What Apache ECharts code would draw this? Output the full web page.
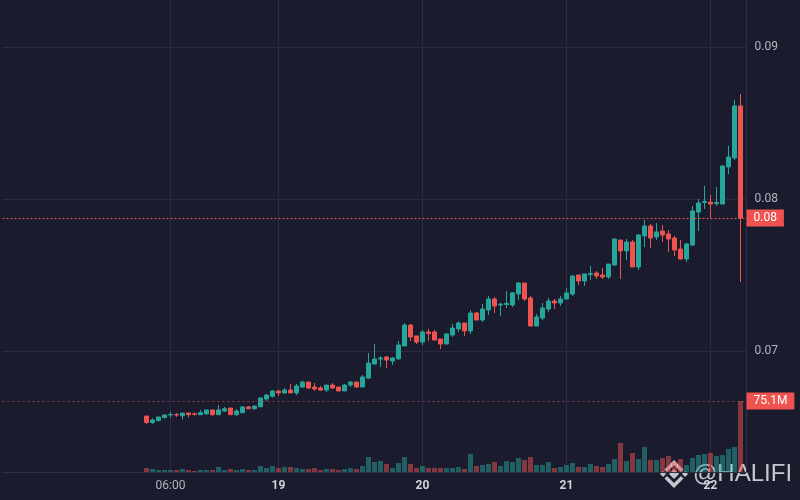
<!DOCTYPE html>
<html>
<head>
<meta charset="utf-8">
<script src="https://cdn.jsdelivr.net/npm/echarts@6/dist/echarts.min.js"></script>
<style>
  html, body { margin: 0; padding: 0; background: #1b1b2e; }
  #main { width: 800px; height: 500px; }
</style>
</head>
<body>
<div id="main"></div>
<script>
// hourly candles, 18th 02:00 -> 22nd 05:00
const opens = [
  0.06572, 0.06530, 0.06543, 0.06562, 0.06579, 0.06582, 0.06574, 0.06592, 0.06587, 0.06581,
  0.06587, 0.06612, 0.06581, 0.06605, 0.06625, 0.06581, 0.06594, 0.06632, 0.06620, 0.06633,
  0.06684, 0.06702, 0.06737, 0.06724, 0.06743, 0.06724, 0.06763, 0.06796, 0.06763, 0.06757,
  0.06743, 0.06776, 0.06763, 0.06737, 0.06776, 0.06796, 0.06763, 0.06822, 0.06914, 0.06947,
  0.06961, 0.06934, 0.06949, 0.07033, 0.07171, 0.07099, 0.07059, 0.07125, 0.07125, 0.07079,
  0.07046, 0.07105, 0.07145, 0.07184, 0.07132, 0.07250, 0.07204, 0.07270, 0.07342, 0.07303,
  0.07306, 0.07303, 0.07375, 0.07447, 0.07349, 0.07164, 0.07217, 0.07276, 0.07329, 0.07316,
  0.07342, 0.07375, 0.07500, 0.07461, 0.07503, 0.07513, 0.07500, 0.07487, 0.07566, 0.07730,
  0.07658, 0.07717, 0.07553, 0.07757, 0.07822, 0.07750, 0.07789, 0.07770, 0.07743, 0.07671,
  0.07605, 0.07697, 0.07914, 0.07977, 0.07980, 0.07970, 0.07967, 0.08211, 0.08270, 0.08612
];
const closes = [
  0.06530, 0.06546, 0.06566, 0.06579, 0.06582, 0.06579, 0.06592, 0.06581, 0.06584, 0.06594,
  0.06612, 0.06581, 0.06612, 0.06620, 0.06581, 0.06605, 0.06632, 0.06620, 0.06638, 0.06691,
  0.06710, 0.06737, 0.06724, 0.06743, 0.06724, 0.06770, 0.06796, 0.06757, 0.06750, 0.06743,
  0.06776, 0.06757, 0.06737, 0.06776, 0.06796, 0.06763, 0.06829, 0.06921, 0.06947, 0.06954,
  0.06941, 0.06954, 0.07039, 0.07171, 0.07092, 0.07059, 0.07125, 0.07115, 0.07072, 0.07046,
  0.07112, 0.07151, 0.07184, 0.07132, 0.07250, 0.07204, 0.07276, 0.07342, 0.07296, 0.07309,
  0.07313, 0.07382, 0.07447, 0.07342, 0.07164, 0.07224, 0.07283, 0.07329, 0.07316, 0.07342,
  0.07382, 0.07493, 0.07461, 0.07507, 0.07510, 0.07493, 0.07487, 0.07572, 0.07737, 0.07658,
  0.07717, 0.07553, 0.07763, 0.07822, 0.07743, 0.07783, 0.07763, 0.07737, 0.07664, 0.07605,
  0.07704, 0.07921, 0.07974, 0.07984, 0.07967, 0.07977, 0.08217, 0.08276, 0.08612, 0.07875
];
const lows = [
  0.06520, 0.06520, 0.06535, 0.06556, 0.06562, 0.06566, 0.06548, 0.06561, 0.06574, 0.06581,
  0.06581, 0.06574, 0.06581, 0.06599, 0.06581, 0.06574, 0.06594, 0.06620, 0.06614, 0.06633,
  0.06671, 0.06695, 0.06704, 0.06717, 0.06724, 0.06710, 0.06757, 0.06750, 0.06737, 0.06737,
  0.06730, 0.06750, 0.06737, 0.06737, 0.06763, 0.06757, 0.06763, 0.06816, 0.06914, 0.06895,
  0.06888, 0.06908, 0.06941, 0.07033, 0.07066, 0.07046, 0.07039, 0.07066, 0.07072, 0.07013,
  0.07046, 0.07092, 0.07125, 0.07099, 0.07112, 0.07204, 0.07191, 0.07237, 0.07250, 0.07230,
  0.07283, 0.07289, 0.07336, 0.07329, 0.07164, 0.07164, 0.07204, 0.07257, 0.07276, 0.07296,
  0.07342, 0.07362, 0.07434, 0.07428, 0.07467, 0.07474, 0.07474, 0.07474, 0.07559, 0.07474,
  0.07599, 0.07553, 0.07533, 0.07684, 0.07678, 0.07730, 0.07717, 0.07651, 0.07625, 0.07599,
  0.07586, 0.07691, 0.07789, 0.07934, 0.07875, 0.07954, 0.07967, 0.08164, 0.08257, 0.07454
];
const highs = [
  0.06572, 0.06556, 0.06566, 0.06579, 0.06599, 0.06592, 0.06592, 0.06592, 0.06594, 0.06612,
  0.06612, 0.06612, 0.06645, 0.06632, 0.06625, 0.06618, 0.06638, 0.06638, 0.06638, 0.06691,
  0.06717, 0.06743, 0.06740, 0.06757, 0.06783, 0.06783, 0.06805, 0.06796, 0.06789, 0.06770,
  0.06776, 0.06789, 0.06763, 0.06783, 0.06803, 0.06796, 0.06842, 0.06987, 0.07046, 0.06967,
  0.06967, 0.06961, 0.07066, 0.07184, 0.07178, 0.07099, 0.07138, 0.07145, 0.07138, 0.07079,
  0.07118, 0.07178, 0.07197, 0.07184, 0.07270, 0.07257, 0.07309, 0.07362, 0.07355, 0.07316,
  0.07395, 0.07388, 0.07454, 0.07447, 0.07362, 0.07243, 0.07316, 0.07349, 0.07342, 0.07362,
  0.07414, 0.07500, 0.07500, 0.07507, 0.07559, 0.07526, 0.07546, 0.07572, 0.07737, 0.07730,
  0.07737, 0.07730, 0.07770, 0.07862, 0.07836, 0.07842, 0.07829, 0.07796, 0.07757, 0.07730,
  0.07711, 0.07954, 0.08000, 0.08086, 0.08026, 0.08079, 0.08224, 0.08349, 0.08651, 0.08691
];
// volume in millions
const volumes = [
  4.2, 3.2, 2.1, 2.1, 2.1, 2.1, 3.2, 2.1, 1.1, 2.1,
  2.1, 2.1, 5.3, 2.1, 3.2, 2.1, 3.2, 2.1, 2.1, 6.3,
  4.2, 6.3, 4.2, 5.3, 5.3, 4.2, 3.2, 3.2, 4.2, 2.1,
  3.2, 3.2, 2.1, 3.2, 4.2, 3.2, 6.3, 15.9, 10.6, 11.6,
  8.5, 4.2, 9.5, 15.9, 8.5, 4.2, 6.3, 4.2, 4.2, 4.2,
  4.2, 4.2, 5.3, 3.2, 19.0, 6.3, 7.4, 8.5, 10.6, 6.3,
  11.6, 10.6, 14.8, 12.7, 15.9, 7.4, 7.4, 10.6, 4.2, 5.3,
  7.4, 9.5, 5.3, 5.3, 8.5, 6.3, 5.3, 8.5, 13.8, 30.7,
  11.6, 20.1, 13.8, 26.5, 12.7, 12.7, 14.8, 16.9, 10.6, 13.8,
  7.4, 14.8, 18.0, 19.0, 20.1, 16.9, 18.0, 24.3, 26.5, 75.1
];
const priceTicks = [0.07, 0.08, 0.09];
const tickLabels = ['18 06:00', '19 00:00', '20 00:00', '21 00:00', '22 00:00'];

// time axis: empty hours on the left like the original, one spare hour on the right
const padBefore = 24;
const categories = [];
for (let i = 0; i < padBefore + opens.length + 1; i++) {
  const t = 2 + i; // starts at 17th 02:00
  const d = 17 + Math.floor(t / 24);
  const h = t % 24;
  categories.push(d + ' ' + String(h).padStart(2, '0') + ':00');
}

const UP = '#26a69a';
const DOWN = '#ef5350';
const GRID = '#2a2b3f';
const VOL_LINE = '#8e3f48';

const candleData = [];
const volData = [];
for (let i = 0; i < categories.length; i++) {
  const k = i - padBefore;
  if (k < 0 || k >= opens.length) {
    candleData.push(['-', '-', '-', '-']);
    volData.push('-');
    continue;
  }
  candleData.push([opens[k], closes[k], lows[k], highs[k]]);
  volData.push({
    value: volumes[k],
    itemStyle: { color: closes[k] >= opens[k] ? 'rgba(38,166,154,0.5)' : 'rgba(239,83,80,0.5)' }
  });
}
const lastClose = closes[closes.length - 1];
const lastVol = volumes[volumes.length - 1];

const isTick = (i, v) => tickLabels.includes(v);
// price scale: 0.01 per 152px, pane runs 0..472px
const pxPrice = 0.01 / 152;

const myChart = echarts.init(document.getElementById('main'));
const WM = 'rgba(228,228,235,0.85)';
const option = {
  backgroundColor: '#1b1b2e',
  animation: false,
  textStyle: { fontFamily: 'Roboto, "Liberation Sans", sans-serif' },
  grid: [
    { left: 2.5, right: 53.5, top: 0, bottom: 28 },
    { left: 2.5, right: 53.5, top: 0, bottom: 28 }
  ],
  xAxis: [
    { type: 'category', gridIndex: 0, data: categories, boundaryGap: false, show: false },
    {
      type: 'category', gridIndex: 1, data: categories, boundaryGap: false,
      axisLine: { lineStyle: { color: '#2e2f44' } },
      axisTick: { show: false },
      axisLabel: {
        interval: isTick,
        margin: 8,
        formatter: v => v.endsWith(' 00:00') ? '{d|' + v.split(' ')[0] + '}' : '{t|' + v.split(' ')[1] + '}',
        rich: {
          d: { color: '#d1d4dc', fontSize: 12, fontWeight: 'bold' },
          t: { color: '#b2b5be', fontSize: 12 }
        }
      },
      splitLine: { show: true, interval: isTick, lineStyle: { color: GRID } }
    }
  ],
  yAxis: [
    {
      type: 'value', gridIndex: 0, position: 'right',
      min: 0.07 - 121 * pxPrice, max: 0.09 + 47 * pxPrice,
      axisLine: { show: false },
      axisTick: { show: false, customValues: priceTicks },
      axisLabel: {
        color: '#b2b5be', fontSize: 12, margin: 8,
        customValues: priceTicks,
        formatter: v => v.toFixed(2)
      },
      splitLine: { lineStyle: { color: GRID } }
    },
    {
      type: 'value', gridIndex: 1, position: 'right',
      min: 0, max: 75.1 * 472 / 71,
      axisLine: { show: true, lineStyle: { color: '#2e2f44' } },
      axisTick: { show: false }, axisLabel: { show: false }, splitLine: { show: false }
    }
  ],
  series: [
    {
      type: 'bar', xAxisIndex: 1, yAxisIndex: 1, data: volData, barWidth: 5,
      markLine: {
        symbol: 'none', silent: true, precision: 5,
        lineStyle: { color: VOL_LINE, type: [2, 3], width: 1 },
        label: {
          position: 'end', distance: 0, formatter: lastVol.toFixed(1) + 'M',
          backgroundColor: DOWN, color: '#ffffff', fontSize: 12, padding: [3, 7, 2, 7]
        },
        data: [{ yAxis: lastVol, lineStyle: { color: VOL_LINE } }]
      }
    },
    {
      type: 'candlestick', xAxisIndex: 0, yAxisIndex: 0, data: candleData, barWidth: 5,
      itemStyle: { color: UP, color0: DOWN, borderColor: UP, borderColor0: DOWN, borderWidth: 1 },
      markLine: {
        symbol: 'none', silent: true, precision: 5,
        lineStyle: { color: DOWN, type: [2, 2], width: 1 },
        label: {
          position: 'end', distance: 0, formatter: lastClose.toFixed(2),
          backgroundColor: DOWN, color: '#ffffff', fontSize: 12, padding: [3, 7, 2, 7]
        },
        data: [{ yAxis: lastClose, lineStyle: { color: DOWN } }]
      }
    }
  ],
  graphic: [
    {
      type: 'group', z: 100, silent: true,
      children: [
        { type: 'polygon', shape: { points: [[674, 469], [679, 474], [674, 479], [669, 474]] }, style: { fill: WM } },
        { type: 'polygon', shape: { points: [[663, 471], [666, 474], [663, 477], [660, 474]] }, style: { fill: WM } },
        { type: 'polygon', shape: { points: [[685, 471], [688, 474], [685, 477], [682, 474]] }, style: { fill: WM } },
        { type: 'polygon', shape: { points: [[674, 460], [683.5, 469.5], [681, 472], [674, 465], [667, 472], [664.5, 469.5]] }, style: { fill: WM } },
        { type: 'polygon', shape: { points: [[674, 488], [683.5, 478.5], [681, 476], [674, 483], [667, 476], [664.5, 478.5]] }, style: { fill: WM } },
        {
          type: 'text',
          style: {
            text: '@HALIFI', x: 693, y: 474, verticalAlign: 'middle',
            font: '24px "Liberation Sans", sans-serif', fill: WM
          }
        }
      ]
    }
  ]
};
myChart.setOption(option, true);
</script>
</body>
</html>
